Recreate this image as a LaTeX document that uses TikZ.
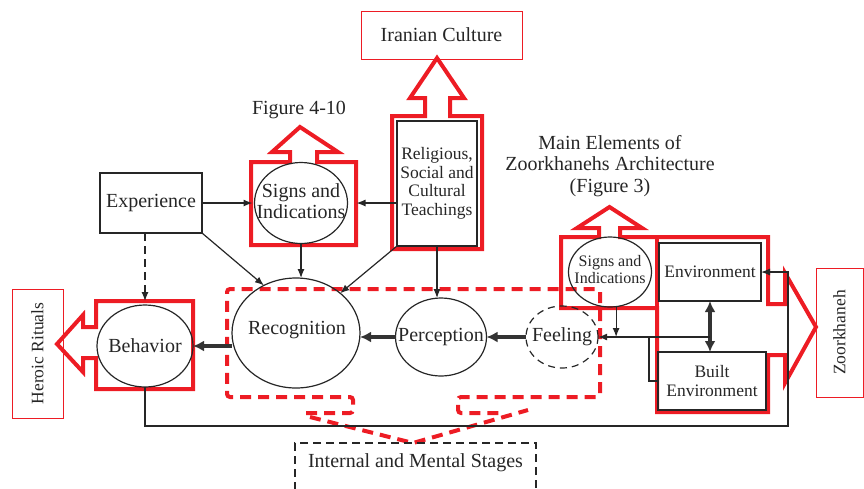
\documentclass[tikz,border=0pt]{standalone}
\usepackage{fontspec}
\setmainfont{Liberation Serif}
\usetikzlibrary{arrows.meta,shapes.geometric}
\definecolor{rd}{RGB}{237,28,36}
\begin{document}
\begin{tikzpicture}[x=1pt,y=-1pt,
  every node/.style={font=\fontsize{20}{21}\selectfont, inner sep=0pt, outer sep=0pt, text=black!85},
  blk/.style={draw=black!85, line width=1.2pt},
  box/.style={blk, rectangle},
  ell/.style={blk, ellipse},
  small/.style={font=\fontsize{17.5}{18.5}\selectfont},
  redbox/.style={draw=rd, line width=1pt, rectangle},
  redshape/.style={draw=rd, line width=4pt, line join=miter},
  reddash/.style={draw=rd, line width=4pt, dash pattern=on 11pt off 7pt},
  arr/.style={blk, -{Latex[length=9pt,width=7pt]}},
  thk/.style={draw=black!80, line width=3.4pt, -{Latex[length=11pt,width=11pt]}},
]
\useasboundingbox (0,0) rectangle (864,488);

% ---------- red highlight shapes ----------
\draw[redshape] (96,301) -- (193,301) -- (193,389) -- (96,389) -- (96,358) -- (83,358) -- (83,372)
  -- (57,344) -- (83,315) -- (83,327) -- (96,327) -- cycle;
\draw[redshape] (251,162) -- (290,162) -- (290,152) -- (272,152) -- (300,127) -- (338,152) -- (317,152)
  -- (317,162) -- (356,162) -- (356,245) -- (251,245) -- cycle;
\draw[redshape] (392,116) -- (425,116) -- (425,98) -- (410,98) -- (437,58) -- (464,98) -- (450,98)
  -- (450,116) -- (482,116) -- (482,249) -- (392,249) -- cycle;
\draw[redshape] (561,237) -- (599,237) -- (599,228) -- (577,228) -- (609.5,207) -- (642,228) -- (620,228)
  -- (620,237) -- (768,237) -- (768,304) -- (785,304) -- (785,273) -- (816,327) -- (785,383)
  -- (785,355) -- (768,355) -- (768,412) -- (657,412) -- (657,308) -- (561,308) -- cycle;
\draw[redshape] (657,237) -- (657,308);

% ---------- red dashed grouping ----------
\draw[reddash, rounded corners=3pt] (306,413) -- (353,413) -- (353,397) -- (227,397) -- (227,289)
  -- (600,289) -- (600,397) -- (458,397) -- (458,413) -- (502,413);
\draw[reddash] (310,417) -- (413,443) -- (528,410);

% ---------- nodes ----------
\node[redbox, minimum width=161pt, minimum height=48pt] (iran) at (441.5,35) {Iranian Culture};
\node (fig410) at (299,110) {Figure 4-10};
\node[align=center, font=\fontsize{20}{21.5}\selectfont] (mainel) at (610,166)
  {Main Elements of\\Zoorkhanehs Architecture\\(Figure 3)};

\node[box, minimum width=102pt, minimum height=60pt] (exp) at (151,203) {Experience};
\node[ell, minimum width=93pt, minimum height=81pt] (sigL) at (301,203) {};
\node[align=center] (sigLT) at (301,201) {Signs and\\Indications};
\node[box, small, align=center, minimum width=80pt, minimum height=125pt] (relig) at (437,183.5)
  {Religious,\\Social and\\Cultural\\Teachings};

\node[ell, minimum width=96pt, minimum height=82pt] (behav) at (145,346) {};
\node (behavT) at (145,346) {Behavior};
\node[ell, minimum width=128pt, minimum height=110pt] (recog) at (296,333) {};
\node (recogT) at (297,330) {Recognition};
\node[ell, minimum width=91pt, minimum height=78pt] (perc) at (441,337) {};
\node (percT) at (441,337) {Perception};
\node[ell, dash pattern=on 7pt off 5pt, minimum width=72pt, minimum height=62pt] (feel) at (562,337) {};
\node (feelT) at (562,337) {Feeling};

\node[ell, minimum width=83pt, minimum height=70pt] (sigR) at (610,272) {};
\node[align=center, font=\fontsize{16}{17}\selectfont] (sigRT) at (610,270) {Signs and\\Indications};
\node[box, small, minimum width=102pt, minimum height=58pt] (env) at (710,272) {Environment};
\node[box, small, align=center, minimum width=108pt, minimum height=58pt] (built) at (712,381)
  {Built\\Environment};

\node[redbox, minimum width=51pt, minimum height=129pt] (heroic) at (37.5,353.5) {};
\node[small, rotate=90] (heroicT) at (heroic) {Heroic Rituals};
\node[redbox, minimum width=47pt, minimum height=129pt] (zoork) at (839.5,332.5) {};
\node[small, rotate=90] (zoorkT) at (zoork) {Zoorkhaneh};

\node[blk, dash pattern=on 8pt off 5pt, minimum width=241pt, minimum height=64pt] (stagesbox) at (415.5,475) {};
\node (stages) at (415.5,463) {Internal and Mental Stages};

% ---------- connectors ----------
\draw[arr, shorten >=2pt] (exp.east) -- (sigL.west);
\draw[arr] (exp.south east) -- (recog.124);
\draw[arr] (sigL.south) -- (sigL.south |- recog.north);
\draw[arr] (relig.west |- sigL.east) -- ([xshift=9pt]sigL.east);
\draw[arr] (relig.south west) -- (recog.42);
\draw[arr] (relig.south) -- (relig.south |- perc.north);
\draw[blk, dash pattern=on 8pt off 5pt, -{Latex[length=9pt,width=7pt]}]
  (behav.north |- exp.south) -- ([yshift=4pt]behav.north);

\draw[thk] (feel.west) -- (perc.east);
\draw[thk] (perc.west) -- (perc.west -| recog.east);
\draw[thk] (recog.west |- behav.east) -- (behav.east);

\coordinate (loopR) at (788,426);
\draw[arr] (behav.south) |- (loopR) |- (env.east);
\draw[thk, {Latex[length=11pt,width=11pt]}-{Latex[length=11pt,width=11pt]}] (env.south) -- (env.south |- built.north);
\coordinate (junc) at (710,337);
\coordinate (junc2) at (649,337);
\draw[arr, line width=1.6pt] (junc) -- (feel.east);
\draw[blk] (junc2) |- (built.west);
\draw[arr] (sigR.-80) -- (sigR.-80 |- junc);
\end{tikzpicture}
\end{document}
